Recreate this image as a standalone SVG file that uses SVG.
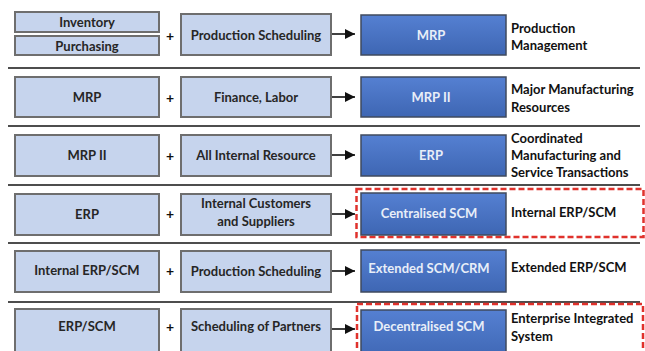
<svg xmlns="http://www.w3.org/2000/svg" width="645" height="351" viewBox="0 0 645 351">
  <defs>
    <linearGradient id="darkFill" x1="0" y1="0" x2="0" y2="1">
      <stop offset="0" stop-color="#5580d2"/>
      <stop offset="1" stop-color="#3e66b3"/>
    </linearGradient>
    <marker id="arrowHead" viewBox="0 0 10 10" refX="10" refY="5" markerWidth="10" markerHeight="10" markerUnits="userSpaceOnUse" orient="auto">
      <path d="M0,0 L10,5 L0,10 Z" fill="#111"/>
    </marker>
    <style>
      text { font-family: "Lato", "Liberation Sans", sans-serif; font-weight: bold; font-size: 13px; }
      .light rect { fill: #c6d4ed; stroke: #6e6e6e; stroke-width: 2; }
      .light text { fill: #262626; text-anchor: middle; dominant-baseline: central; }
      .dark rect { fill: url(#darkFill); stroke: #3f4a5e; stroke-width: 1.5; }
      .dark text { fill: #e8eef8; text-anchor: middle; dominant-baseline: central; }
      .label text { fill: #111; text-anchor: start; dominant-baseline: central; }
      .plus { fill: #111; text-anchor: middle; dominant-baseline: central; font-size: 14px; }
      .sep { stroke: #4d4d4d; stroke-width: 2; }
      .conn line { stroke: #111; stroke-width: 1.6; marker-end: url(#arrowHead); }
      .scope { fill: none; stroke: #e0322c; stroke-width: 2.5; stroke-dasharray: 6 3; }
    </style>
  </defs>

  <rect width="645" height="351" fill="#ffffff"/>

  <!-- row separators -->
  <g id="separators">
    <line class="sep" x1="8" y1="68" x2="640" y2="68"/>
    <line class="sep" x1="8" y1="126" x2="640" y2="126"/>
    <line class="sep" x1="8" y1="185" x2="640" y2="185"/>
    <line class="sep" x1="8" y1="243" x2="640" y2="243"/>
    <line class="sep" x1="8" y1="302" x2="640" y2="302"/>
  </g>

  <!-- dashed scope frames -->
  <rect class="scope" x="356.5" y="189" width="287" height="48"/>
  <rect class="scope" x="357" y="304" width="286" height="60"/>

  <!-- row 1 -->
  <g id="inventory" class="light"><rect x="15" y="12" width="144" height="20"/><text x="87" y="22">Inventory</text></g>
  <g id="purchasing" class="light"><rect x="15" y="36" width="144" height="19"/><text x="87" y="45.5">Purchasing</text></g>
  <text class="plus" x="170" y="35">+</text>
  <g id="prod-sched-1" class="light"><rect x="181" y="14" width="150" height="41"/><text x="256" y="35">Production Scheduling</text></g>
  <g id="mrp" class="dark"><rect x="361" y="15" width="145" height="40"/><text x="431" y="35">MRP</text></g>
  <g id="label-1" class="label"><text x="511" y="28">Production</text><text x="511" y="45">Management</text></g>

  <!-- row 2 -->
  <g id="mrp-in" class="light"><rect x="15" y="77" width="144" height="40"/><text x="87" y="97">MRP</text></g>
  <text class="plus" x="170" y="97">+</text>
  <g id="finance-labor" class="light"><rect x="181" y="77" width="150" height="40"/><text x="256" y="97">Finance, Labor</text></g>
  <g id="mrp2" class="dark"><rect x="361" y="77" width="145" height="40"/><text x="431" y="97">MRP II</text></g>
  <g id="label-2" class="label"><text x="511" y="89">Major Manufacturing</text><text x="511" y="107">Resources</text></g>

  <!-- row 3 -->
  <g id="mrp2-in" class="light"><rect x="15" y="135" width="144" height="41"/><text x="87" y="155">MRP II</text></g>
  <text class="plus" x="170" y="155">+</text>
  <g id="internal-resource" class="light"><rect x="181" y="135" width="150" height="41"/><text x="256" y="155">All Internal Resource</text></g>
  <g id="erp" class="dark"><rect x="361" y="135" width="145" height="41"/><text x="431" y="155">ERP</text></g>
  <g id="label-3" class="label"><text x="511" y="138">Coordinated</text><text x="511" y="155">Manufacturing and</text><text x="511" y="172">Service Transactions</text></g>

  <!-- row 4 -->
  <g id="erp-in" class="light"><rect x="15" y="194" width="144" height="41"/><text x="87" y="214">ERP</text></g>
  <text class="plus" x="170" y="213">+</text>
  <g id="customers-suppliers" class="light"><rect x="181" y="194" width="150" height="41"/><text x="256" y="203">Internal Customers</text><text x="256" y="221">and Suppliers</text></g>
  <g id="centralised-scm" class="dark"><rect x="361" y="193" width="145" height="42"/><text x="429" y="213">Centralised SCM</text></g>
  <g id="label-4" class="label"><text x="511" y="212">Internal ERP/SCM</text></g>

  <!-- row 5 -->
  <g id="internal-erp-scm" class="light"><rect x="15" y="251" width="144" height="41"/><text x="87" y="270">Internal ERP/SCM</text></g>
  <text class="plus" x="170" y="270">+</text>
  <g id="prod-sched-2" class="light"><rect x="181" y="251" width="150" height="41"/><text x="256" y="271">Production Scheduling</text></g>
  <g id="extended-scm" class="dark"><rect x="361" y="250" width="145" height="42"/><text x="429" y="268">Extended SCM/CRM</text></g>
  <g id="label-5" class="label"><text x="511" y="267">Extended ERP/SCM</text></g>

  <!-- row 6 -->
  <g id="erp-scm-in" class="light"><rect x="15" y="309" width="144" height="50"/><text x="87" y="326">ERP/SCM</text></g>
  <text class="plus" x="170" y="326">+</text>
  <g id="partner-sched" class="light"><rect x="181" y="309" width="150" height="50"/><text x="256" y="326">Scheduling of Partners</text></g>
  <g id="decentralised-scm" class="dark"><rect x="361" y="310" width="145" height="50"/><text x="429" y="326">Decentralised SCM</text></g>
  <g id="label-6" class="label"><text x="511" y="318">Enterprise Integrated</text><text x="511" y="336">System</text></g>

  <!-- connectors -->
  <g id="connectors" class="conn">
    <line x1="332" y1="34" x2="355" y2="34"/>
    <line x1="332" y1="97" x2="355" y2="97"/>
    <line x1="332" y1="155" x2="355" y2="155"/>
    <line x1="332" y1="214" x2="355" y2="214"/>
    <line x1="332" y1="271" x2="355" y2="271"/>
    <line x1="332" y1="329" x2="355" y2="329"/>
  </g>
</svg>
